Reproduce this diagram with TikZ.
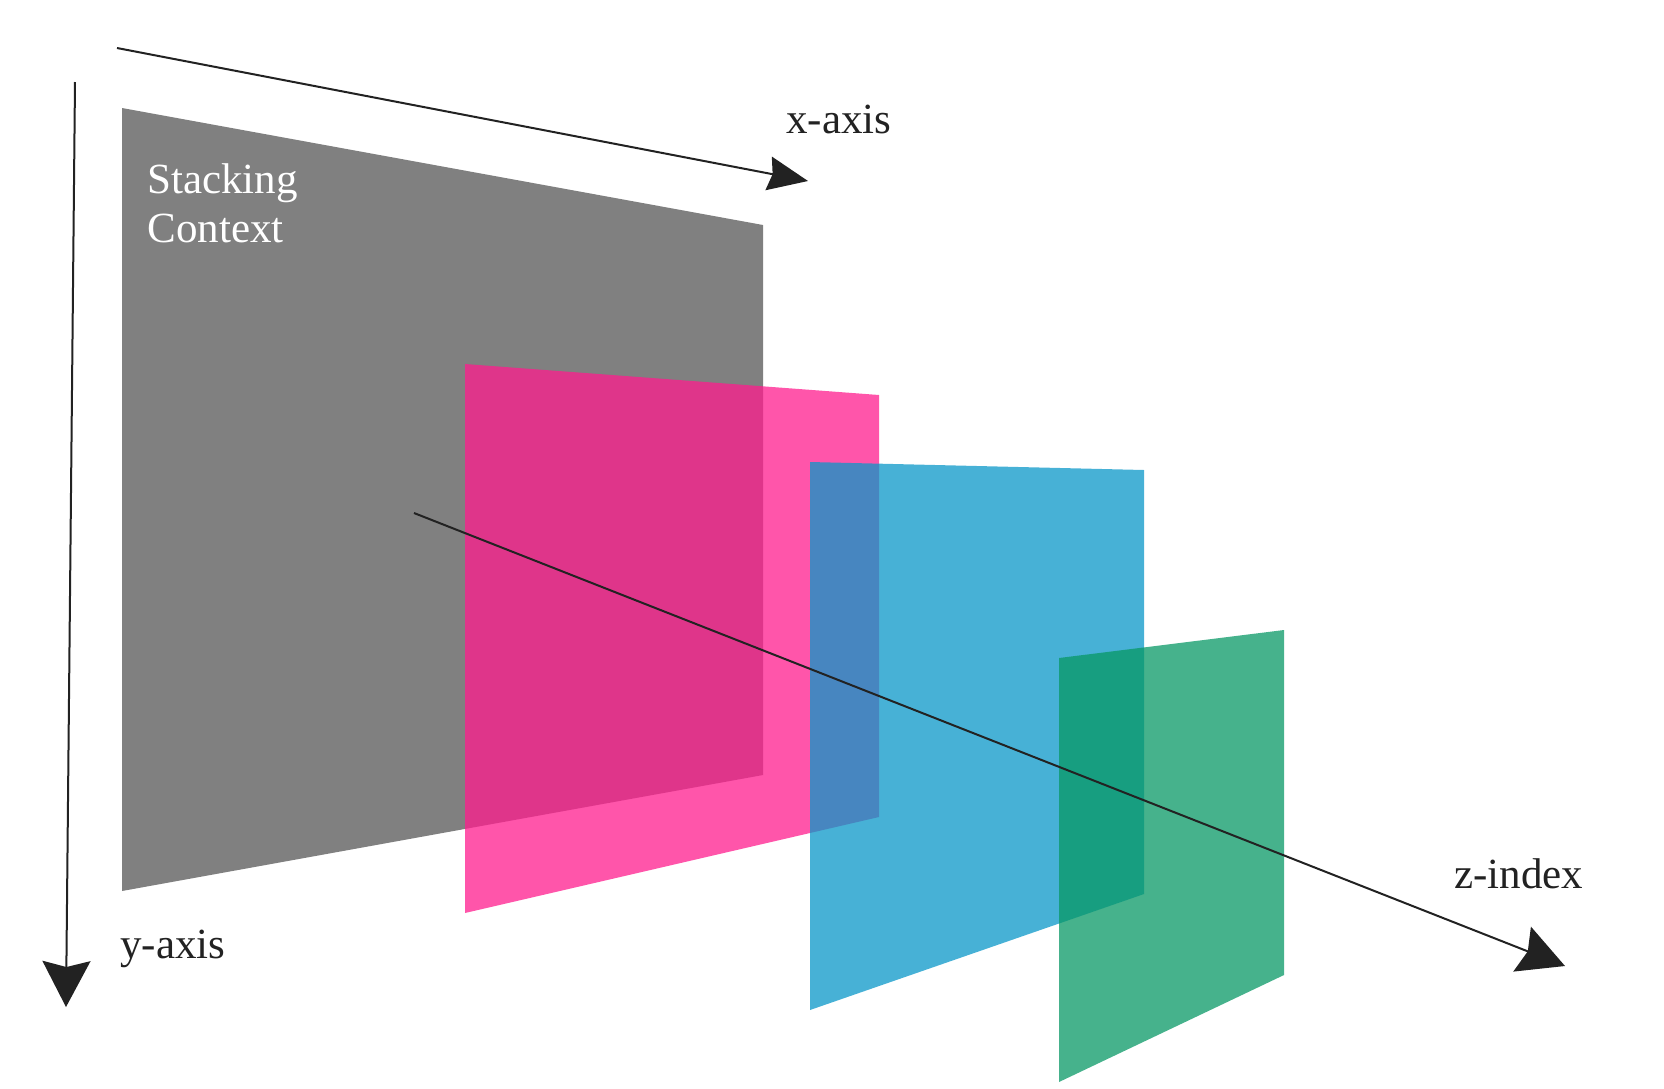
\documentclass[tikz,border=0pt]{standalone}
\usepackage{fontspec}
\setmainfont{Liberation Serif}
\usepackage{tikz}
\usetikzlibrary{arrows.meta}
\definecolor{ctxgray}{HTML}{808080}
\definecolor{layerpink}{HTML}{FF1C8E}
\definecolor{layerblue}{HTML}{0A97C8}
\definecolor{layergreen}{HTML}{089865}
\definecolor{axisink}{HTML}{222222}

\begin{document}
\begin{tikzpicture}[x=0.5pt,y=-0.5pt,
		plane/.style={draw=none,fill opacity=0.75},
		axisline/.style={draw=axisink,line width=1pt,-{Stealth[length=23pt,width=24pt,inset=3pt]}},
		lbl/.style={font=\fontsize{21.5}{24.5}\selectfont,anchor=base west,inner sep=0pt,text=axisink},
	]
	\useasboundingbox (0,0) rectangle (1664,1088);
	% layers, back to front
	\fill[ctxgray] (122,108) -- (763,225) -- (763,775) -- (122,891) -- cycle;
	\fill[plane,layerpink] (465,364) -- (879,395) -- (879,817) -- (465,913) -- cycle;
	\fill[plane,layerblue] (810,462) -- (1144,470) -- (1144,894) -- (810,1010) -- cycle;
	\fill[plane,layergreen] (1059,658) -- (1284,630) -- (1284,975) -- (1059,1082) -- cycle;
	% axes
	\coordinate (xstart) at (117,48);
	\coordinate (xend) at (808,181);
	\coordinate (ystart) at (75,82);
	\coordinate (yend) at (66,1007);
	\coordinate (zstart) at (414,513);
	\coordinate (zend) at (1565,966);
	\draw[axisline,-{Stealth[length=20pt,width=17pt,inset=2pt]}] (xstart) -- (xend);
	\draw[axisline] (ystart) -- (yend);
	\draw[axisline] (zstart) -- (zend);
	% labels
	\node[lbl] (xlbl) at (786,133) {x-axis};
	\node[lbl] (ylbl) at (120,958) {y-axis};
	\node[lbl] (zlbl) at (1454,888) {z-index};
	\node[lbl,text=white] (ctx1) at (147,193) {Stacking};
	\node[lbl,text=white] (ctx2) at (147,242) {Context};
\end{tikzpicture}
\end{document}
